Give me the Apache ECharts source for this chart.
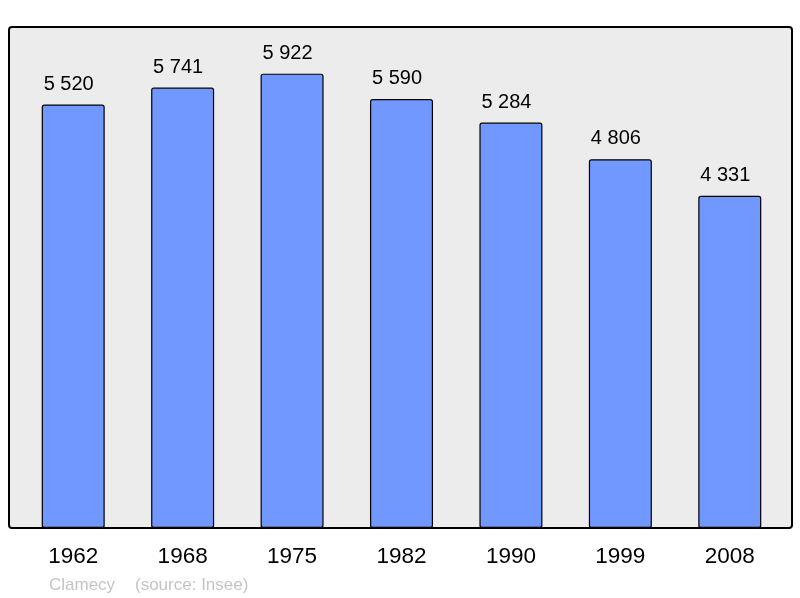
<!DOCTYPE html>
<html>
<head>
<meta charset="utf-8">
<script src="https://cdn.jsdelivr.net/npm/echarts@6/dist/echarts.min.js"></script>
<style>
  html, body { margin: 0; padding: 0; background: #fff; }
  #chart { width: 800px; height: 598px; }
</style>
</head>
<body>
<div id="chart"></div>
<script>
const years = ['1962', '1968', '1975', '1982', '1990', '1999', '2008']
const population = [5520, 5741, 5922, 5590, 5284, 4806, 4331]
const town = 'Clamecy'
const source = '(source: Insee)'

const fmt = v => String(v).replace(/\B(?=(\d{3})+(?!\d))/g, ' ')

const chart = echarts.init(document.getElementById('chart'))

const option = {
  animation: false,
  textStyle: { fontFamily: 'Liberation Sans, Arial, sans-serif' },
  graphic: [
    {
      type: 'rect',
      z: -10,
      shape: { x: 9, y: 27, width: 783, height: 501, r: 3 },
      style: { fill: '#ececec', stroke: '#000', lineWidth: 2 }
    },
    {
      type: 'text',
      left: 49,
      top: 577,
      style: {
        text: town,
        fill: '#c4c4c4',
        font: '17px Liberation Sans, Arial, sans-serif'
      }
    },
    {
      type: 'text',
      left: 135,
      top: 577,
      style: {
        text: source,
        fill: '#c4c4c4',
        font: '17px Liberation Sans, Arial, sans-serif'
      }
    }
  ],
  grid: {
    left: 18.5,
    top: 27,
    width: 766,
    height: 501
  },
  xAxis: {
    type: 'category',
    data: years,
    axisLine: { show: false },
    axisTick: { show: false },
    axisLabel: {
      color: '#000',
      fontSize: 22.5,
      margin: 17
    }
  },
  yAxis: {
    type: 'value',
    min: 0,
    max: 6530,
    show: false,
    splitLine: { show: false }
  },
  series: [
    {
      type: 'bar',
      data: population,
      barWidth: 63,
      itemStyle: {
        color: '#7098ff',
        borderColor: '#000',
        borderWidth: 1.2,
        borderRadius: 2
      },
      label: {
        show: true,
        position: 'top',
        distance: 10.5,
        offset: [-4.5, 0],
        color: '#000',
        fontSize: 20,
        formatter: p => fmt(p.value)
      }
    }
  ]
}

chart.setOption(option)
</script>
</body>
</html>
